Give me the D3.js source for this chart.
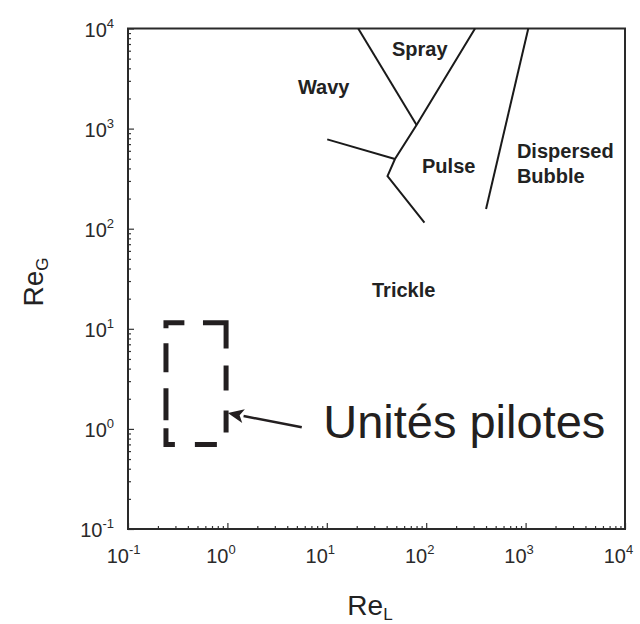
<!DOCTYPE html>
<html>
<head>
<meta charset="utf-8">
<script src="https://cdn.jsdelivr.net/npm/d3@7"></script>
<style>
  html, body { margin: 0; padding: 0; background: #fff; }
  svg { display: block; font-family: "Liberation Sans", Arial, Helvetica, sans-serif; }
</style>
</head>
<body>
<div id="chart"></div>
<script>
// ---------- data (log-log flow regime map) ----------
const xDomain = [0.1, 1e4];   // Re_L
const yDomain = [0.1, 1e4];   // Re_G
const tickExponents = [-1, 0, 1, 2, 3, 4];

// regime boundary lines, [Re_L, Re_G]
const boundaryWavySpray   = [[20.7, 1e4], [80, 1086]];
const boundarySprayPulse  = [[310, 1e4], [80, 1086], [48.5, 497], [40.8, 336], [96, 115]];
const boundaryWavyPulse   = [[10.1, 781], [48.5, 497]];
const boundaryDispersed   = [[1064, 1e4], [400, 157]];
const boundaries = [boundaryWavySpray, boundarySprayPulse, boundaryWavyPulse, boundaryDispersed];

// regime labels: text, Re_L (left edge), Re_G (baseline)
const regimeNames = ["Wavy", "Spray", "Pulse", "Dispersed", "Bubble", "Trickle"];
const regimeX     = [5.13, 45.3, 90.8, 818, 818, 28.5];
const regimeY     = [2200, 5300, 359, 508, 286, 20.8];

// pilot units region (dashed box) and arrow
const pilotBoxX = [0.241, 0.97];
const pilotBoxY = [0.70, 11.5];
const arrowFrom = [5.6, 1.04];
const arrowTo   = [1.01, 1.44];
const pilotLabel = "Unités pilotes";
const pilotLabelPos = [9.2, 0.81];

const xTitle = ["Re", "L"];
const yTitle = ["Re", "G"];

// ---------- layout ----------
const W = 640, H = 624;
const svg = d3.select("#chart").append("svg").attr("width", W).attr("height", H);

const x = d3.scaleLog().domain(xDomain).range([128, 625]);
const y = d3.scaleLog().domain(yDomain).range([529, 28.5]);

const ink = "#1a1a1a";

// minor & major ticks (inward)
const majors = tickExponents.map(e => Math.pow(10, e));
const minors = [];
for (let e = -1; e < 4; e++) for (let k = 2; k <= 9; k++) minors.push(k * Math.pow(10, e));

const gx = svg.append("g").attr("transform", `translate(0,${y.range()[0]})`);
gx.call(d3.axisBottom(x).tickValues(minors).tickSize(-3).tickFormat(""));
gx.append("g").call(d3.axisBottom(x).tickValues(majors).tickSize(-6).tickFormat(""));
gx.selectAll(".domain").remove();
gx.selectAll("line").attr("stroke", "#333").attr("stroke-width", 1.2);

const gy = svg.append("g").attr("transform", `translate(${x.range()[0]},0)`);
gy.call(d3.axisLeft(y).tickValues(minors).tickSize(-3).tickFormat(""));
gy.append("g").call(d3.axisLeft(y).tickValues(majors).tickSize(-6).tickFormat(""));
gy.selectAll(".domain").remove();
gy.selectAll("line").attr("stroke", "#333").attr("stroke-width", 1.2);

// frame
svg.append("rect")
  .attr("x", x.range()[0]).attr("y", y.range()[1])
  .attr("width", x.range()[1] - x.range()[0])
  .attr("height", y.range()[0] - y.range()[1])
  .attr("fill", "none").attr("stroke", "#2a2a2a").attr("stroke-width", 2);

// tick labels x
const xl = svg.append("g").attr("fill", "#2a2a2a");
tickExponents.forEach(e => {
  const v = Math.pow(10, e);
  xl.append("text").attr("x", x(v) + 1).attr("y", 563)
    .attr("text-anchor", "end").attr("font-size", 20).text("10");
  xl.append("text").attr("x", x(v) + 1).attr("y", 554)
    .attr("text-anchor", "start").attr("font-size", 13).text(e);
});
// tick labels y
const yl = svg.append("g").attr("fill", "#2a2a2a");
tickExponents.forEach(e => {
  const v = Math.pow(10, e);
  const t = yl.append("text").attr("x", 114).attr("y", y(v) + 8)
    .attr("text-anchor", "end").attr("font-size", 20);
  t.append("tspan").text("10");
  t.append("tspan").attr("font-size", 13).attr("dy", -9).text(e);
});

// axis titles
const xt = svg.append("text").attr("x", 370).attr("y", 615)
  .attr("text-anchor", "middle").attr("font-size", 28).attr("fill", "#222");
xt.append("tspan").text(xTitle[0]);
xt.append("tspan").attr("font-size", 17).attr("dy", 5).text(xTitle[1]);

const yt = svg.append("text").attr("transform", "translate(43,282) rotate(-90)")
  .attr("text-anchor", "middle").attr("font-size", 28).attr("fill", "#222");
yt.append("tspan").text(yTitle[0]);
yt.append("tspan").attr("font-size", 17).attr("dy", 5).text(yTitle[1]);

// boundary lines
const line = d3.line().x(d => x(d[0])).y(d => y(d[1]));
svg.append("g").selectAll("path").data(boundaries).join("path")
  .attr("d", line).attr("fill", "none").attr("stroke", ink)
  .attr("stroke-width", 2).attr("stroke-linejoin", "miter");

// regime labels
svg.append("g").selectAll("text").data(regimeNames).join("text")
  .attr("x", (d, i) => x(regimeX[i])).attr("y", (d, i) => y(regimeY[i]))
  .attr("font-size", 20).attr("font-weight", "bold").attr("fill", "#222")
  .text(d => d);

// pilot box (dashed), clockwise from top-left corner
const bx0 = x(pilotBoxX[0]), bx1 = x(pilotBoxX[1]);
const by0 = y(pilotBoxY[1]), by1 = y(pilotBoxY[0]);
svg.append("path")
  .attr("d", `M${bx0},${by0} L${bx1},${by0} L${bx1},${by1} L${bx0},${by1} L${bx0},${by0} L${bx1},${by0}`)
  .attr("fill", "none").attr("stroke", "#231f20").attr("stroke-width", 5)
  .attr("stroke-linejoin", "miter").attr("stroke-linecap", "butt")
  .attr("stroke-dasharray", "18 19 49 17 25 20 22 21 22 20 25 8 32 16 29 15 24 400");

// arrow
const ax0 = x(arrowFrom[0]), ay0 = y(arrowFrom[1]);
const ax1 = x(arrowTo[0]), ay1 = y(arrowTo[1]);
const ang = Math.atan2(ay1 - ay0, ax1 - ax0);
const headLen = 16, headW = 7;
const hbx = ax1 - headLen * Math.cos(ang), hby = ay1 - headLen * Math.sin(ang);
svg.append("line").attr("x1", ax0).attr("y1", ay0).attr("x2", hbx).attr("y2", hby)
  .attr("stroke", "#231f20").attr("stroke-width", 2.5);
svg.append("path")
  .attr("d", `M${ax1},${ay1} L${hbx + headW * Math.sin(ang)},${hby - headW * Math.cos(ang)} L${hbx + 4*Math.cos(ang)},${hby + 4*Math.sin(ang)} L${hbx - headW * Math.sin(ang)},${hby + headW * Math.cos(ang)} Z`)
  .attr("fill", "#231f20");

// pilot label
svg.append("text").attr("x", x(pilotLabelPos[0])).attr("y", y(pilotLabelPos[1]))
  .attr("font-size", 47).attr("fill", "#231f20").text(pilotLabel);
</script>
</body>
</html>
